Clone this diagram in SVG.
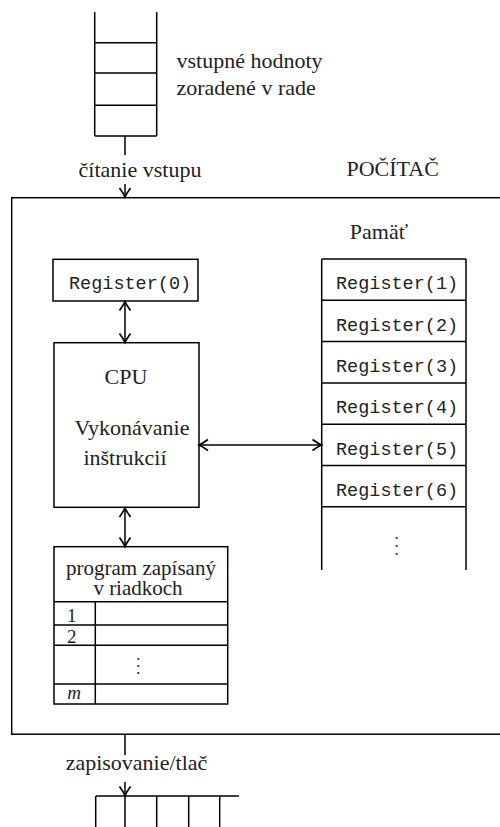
<svg xmlns="http://www.w3.org/2000/svg" width="500" height="827" viewBox="0 0 500 827">
<defs>
<style>
.l{fill:none;stroke:#000;stroke-width:1.5}
.s{font-family:"Liberation Serif","DejaVu Serif",serif;font-size:22px;fill:#222}
.p{font-size:21px}
.n{font-size:19px}
.m{font-family:"Liberation Mono","DejaVu Sans Mono",monospace;font-size:18.5px;fill:#222}
.a{marker-end:url(#ah)}
.b{marker-start:url(#ahs);marker-end:url(#ah)}
</style>
<marker id="ah" viewBox="-11 -7 13 14" refX="0" refY="0" markerWidth="13" markerHeight="14" markerUnits="userSpaceOnUse" orient="auto">
<path d="M-9,-5.5 Q-3.5,-1.5 0,0 Q-3.5,1.5 -9,5.5" fill="none" stroke="#000" stroke-width="1.7"/>
</marker>
<marker id="ahs" viewBox="-11 -7 13 14" refX="0" refY="0" markerWidth="13" markerHeight="14" markerUnits="userSpaceOnUse" orient="auto-start-reverse">
<path d="M-9,-5.5 Q-3.5,-1.5 0,0 Q-3.5,1.5 -9,5.5" fill="none" stroke="#000" stroke-width="1.7"/>
</marker>
</defs>
<rect width="500" height="827" fill="#fff"/>

<g id="input-queue">
<path class="l" d="M94.7,12V136M156.7,12V136M94.7,42.7H156.7M94.7,73H156.7M94.7,105.3H156.7M94.7,136H156.7"/>
<text class="s" x="176.5" y="68">vstupné hodnoty</text>
<text class="s" x="176.5" y="95">zoradené v rade</text>
</g>

<g id="computer">
<rect class="l" x="11.7" y="197.7" width="500" height="536.5"/>
<text class="s" x="346.5" y="176">POČÍTAČ</text>
</g>

<g id="register0">
<rect class="l" x="53" y="259.3" width="145" height="41.7"/>
<text class="m" x="69" y="289.3">Register(0)</text>
</g>

<g id="cpu">
<rect class="l" x="54" y="342.7" width="145" height="164.6"/>
<text class="s" x="126" y="384" text-anchor="middle">CPU</text>
<text class="s" x="132" y="435" text-anchor="middle">Vykonávanie</text>
<text class="s" x="125" y="465" text-anchor="middle">inštrukcií</text>
</g>

<g id="memory">
<text class="s" x="379" y="239" text-anchor="middle">Pamäť</text>
<path class="l" d="M321.7,259H466M321.7,300.3H466M321.7,341.6H466M321.7,382.9H466M321.7,424.2H466M321.7,465.5H466M321.7,506.8H466M321.7,259V570M466,259V570"/>
<text class="m" x="336" y="289.3">Register(1)</text>
<text class="m" x="336" y="330.6">Register(2)</text>
<text class="m" x="336" y="371.9">Register(3)</text>
<text class="m" x="336" y="413.2">Register(4)</text>
<text class="m" x="336" y="454.5">Register(5)</text>
<text class="m" x="336" y="495.8">Register(6)</text>
<g fill="#222"><circle cx="396.7" cy="538" r="1.1"/><circle cx="396.7" cy="546" r="1.1"/><circle cx="396.7" cy="554" r="1.1"/></g>
</g>

<g id="program">
<rect class="l" x="54" y="546.7" width="173.7" height="157.3"/>
<path class="l" d="M54,601.7H227.7M54,625H227.7M54,645.3H227.7M54,684H227.7M95.3,601.7V704"/>
<text class="s p" x="141" y="575" text-anchor="middle">program zapísaný</text>
<text class="s p" x="138" y="595" text-anchor="middle">v riadkoch</text>
<text class="s n" x="71.7" y="621.5" text-anchor="middle">1</text>
<text class="s n" x="71.7" y="642.5" text-anchor="middle">2</text>
<text class="s n" x="74" y="699" text-anchor="middle" font-style="italic">m</text>
<g fill="#222"><circle cx="138.3" cy="659" r="1.1"/><circle cx="138.3" cy="666" r="1.1"/><circle cx="138.3" cy="673" r="1.1"/></g>
</g>

<g id="output-queue">
<path class="l" d="M95.7,796H239M95.7,796V827M125,796V827M156.7,796V827M188.7,796V827M219.7,796V827"/>
</g>

<g id="connectors">
<path class="l" d="M125,136V155"/>
<text class="s" x="140" y="177" text-anchor="middle">čítanie vstupu</text>
<path class="l a" d="M125,184V197"/>
<path class="l b" d="M125,301.5V342.5"/>
<path class="l b" d="M199,445H321.5"/>
<path class="l b" d="M125,508V546.5"/>
<path class="l" d="M125,734V755"/>
<text class="s" x="136.5" y="770" text-anchor="middle">zapisovanie/tlač</text>
<path class="l a" d="M125,782V795.5"/>
</g>
</svg>
